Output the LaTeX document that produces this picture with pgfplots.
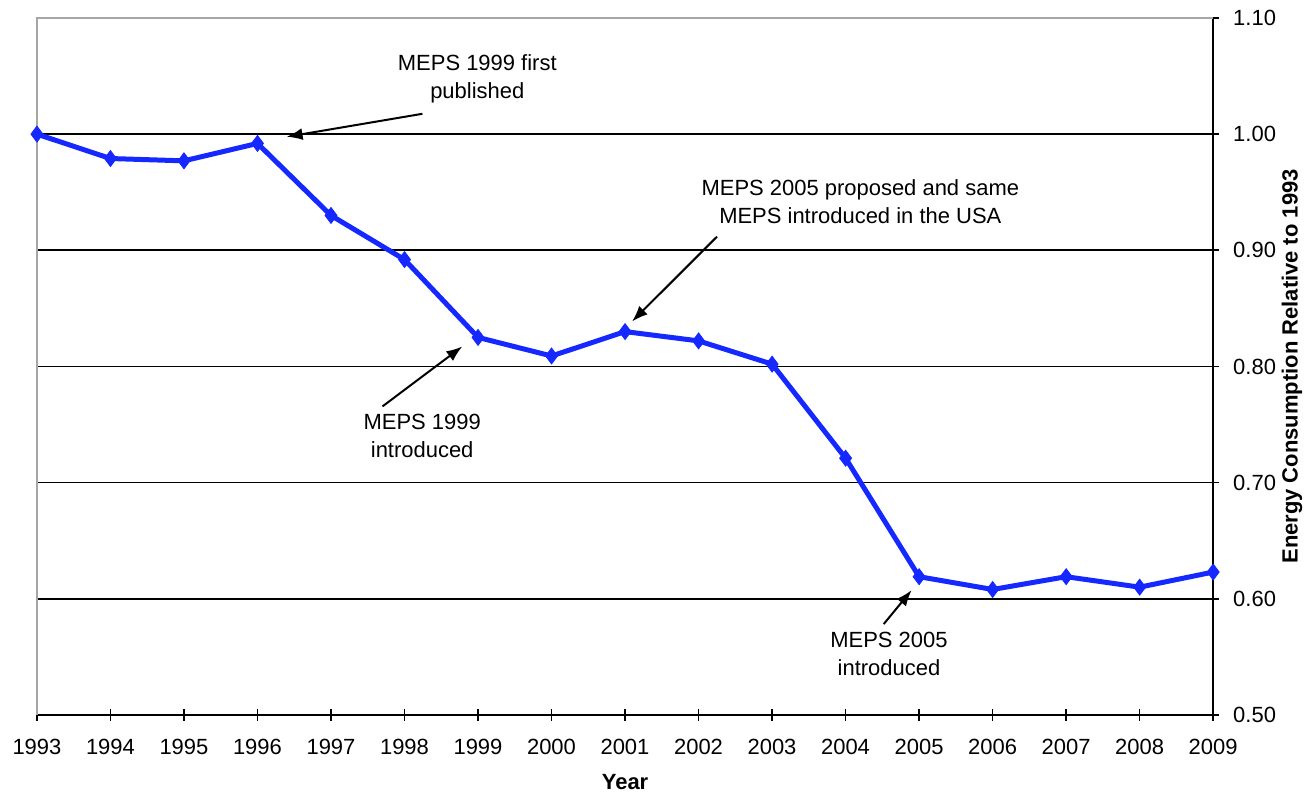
\documentclass[border=0pt]{standalone}
\usepackage{pgfplots}
\pgfplotsset{compat=1.18}
\usepackage{fontspec}
\setmainfont{Liberation Sans}
\usetikzlibrary{arrows.meta}

\definecolor{mepsblue}{RGB}{20,40,255}

\pgfplotstableread{
year  rel
1993  1.000
1994  0.979
1995  0.977
1996  0.992
1997  0.930
1998  0.892
1999  0.825
2000  0.809
2001  0.830
2002  0.822
2003  0.802
2004  0.721
2005  0.619
2006  0.608
2007  0.619
2008  0.610
2009  0.623
}\energy

\begin{document}
\begin{tikzpicture}
\begin{axis}[
    scale only axis,
    width=589pt,
    height=349pt,
    xmin=1993, xmax=2009,
    ymin=0.5, ymax=1.1,
    xtick={1993,1994,...,2009},
    ytick={0.5,0.6,...,1.1},
    axis x line*=bottom,
    axis y line*=right,
    axis line style={black, line width=1pt},
    tick align=center,
    major tick length=6pt,
    tick style={black, line width=0.8pt},
    ymajorgrids,
    grid style={black, line width=0.8pt},
    font=\fontsize{11}{13}\selectfont,
    /pgf/number format/assume math mode=true,
    xticklabel style={/pgf/number format/1000 sep={}, yshift=-5.5pt},
    yticklabel style={/pgf/number format/.cd, fixed, fixed zerofill, precision=2,
                      /tikz/.cd, xshift=3.5pt},
    xlabel={\bfseries Year},
    xlabel style={at={([yshift=-37.5pt]rel axis cs:0.5,0)}, anchor=base},
    ylabel={\bfseries Energy Consumption Relative to 1993},
    ylabel style={at={([xshift=39.5pt]rel axis cs:1,0.5)}, anchor=center},
    clip=false,
]
\addplot[color=mepsblue, line width=2.5pt, mark=diamond*,
         mark size=4pt, mark options={solid, line width=0.4pt}]
    table[x=year, y=rel] {\energy};

% box edges on the left and top are grey
\draw[gray!70, line width=0.8pt] (rel axis cs:0,0) -- (rel axis cs:0,1) -- (rel axis cs:1,1);

% annotations
\begin{scope}[every node/.style={align=center, font=\fontsize{11}{14}\selectfont}]
\node at (axis cs:1998.99,1.0476) {MEPS 1999 first\\published};
\node at (axis cs:2004.20,0.9420) {MEPS 2005 proposed and same\\MEPS introduced in the USA};
\node at (axis cs:1998.24,0.7400) {MEPS 1999\\introduced};
\node at (axis cs:2004.59,0.5524) {MEPS 2005\\introduced};
\end{scope}
\begin{scope}[line width=1pt, -{Latex[length=8pt,width=6pt]}]
\draw (axis cs:1998.243,1.0175) -- (axis cs:1996.396,0.9977);
\draw (axis cs:2002.25,0.9117) -- (axis cs:2001.095,0.8387);
\draw (axis cs:1997.70,0.7656) -- (axis cs:1998.786,0.8172);
\draw (axis cs:2004.518,0.5782) -- (axis cs:2004.898,0.6074);
\end{scope}

% page size of the reference
\path ([xshift=-18.5pt,yshift=-40.5pt]rel axis cs:0,0) rectangle ([xshift=47pt,yshift=9pt]rel axis cs:1,1);
\end{axis}
\end{tikzpicture}
\end{document}
